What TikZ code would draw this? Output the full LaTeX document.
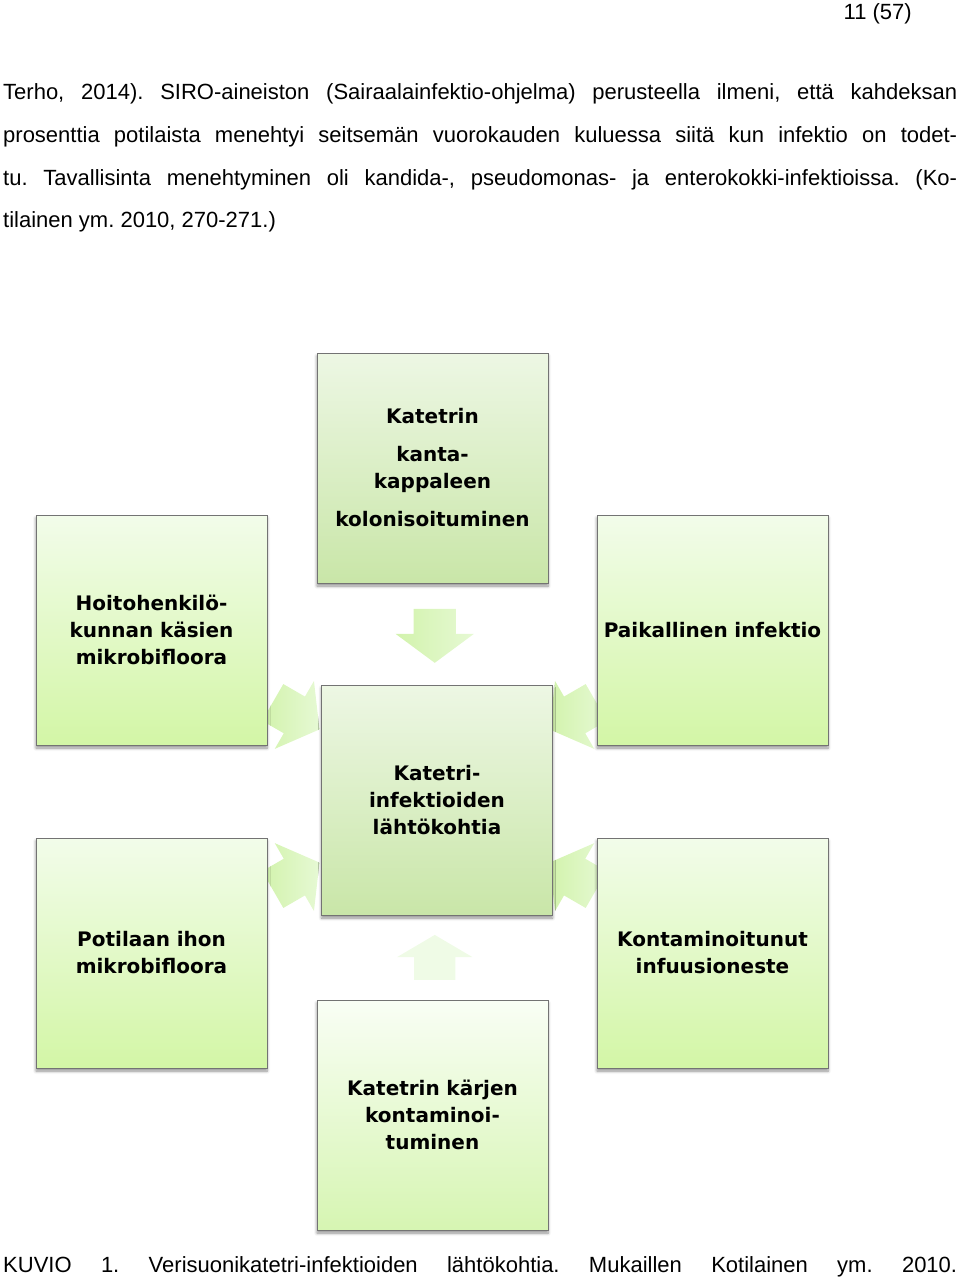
\documentclass[tikz,border=0pt]{standalone}
\usepackage{fontspec}
\setmainfont{Liberation Sans}
\newfontfamily\boxfont{DejaVu Sans}
\usetikzlibrary{shapes.arrows,shadows.blur,calc}
\frenchspacing

\definecolor{sidetop}{HTML}{F2FCEA}
\definecolor{sidebot}{HTML}{D3F6A6}
\definecolor{midtop}{HTML}{EDF7E4}
\definecolor{midbot}{HTML}{C9E6A8}
\definecolor{lowtop}{HTML}{F9FEF5}
\definecolor{lowbot}{HTML}{D6F5B2}
\definecolor{arrowdark}{HTML}{D2F3AC}
\definecolor{arrowlight}{HTML}{E6F9D4}
\definecolor{arrowpale}{HTML}{EFFBE6}

\tikzstyle{block} = [rectangle, draw=black!55, line width=0.8pt, minimum width=231pt, minimum height=230pt, inner sep=0pt, text width=225pt, align=center, font={\boxfont\bfseries\fontsize{20}{27}\selectfont}, top color=sidetop, bottom color=sidebot, blur shadow={shadow xshift=0pt, shadow yshift=-3pt, shadow blur radius=3pt, shadow blur steps=6, shadow opacity=45}]
\tikzstyle{blockarrow} = [single arrow, draw=none, inner sep=0pt, text height=21pt, text depth=21pt, minimum height=54pt, single arrow head extend=18pt, single arrow tip angle=107, left color=arrowdark, right color=arrowlight]
\tikzstyle{bodytext} = [anchor=base west, inner sep=0pt, font={\fontsize{22}{26}\selectfont}]

\begin{document}
\begin{tikzpicture}[x=1pt, y=-1pt]
    \useasboundingbox (0,0) rectangle (960,1281);

    % page text
    \node (pagenum) [anchor=base east, inner sep=0pt, font={\fontsize{22}{26}\selectfont}] at (912,20) {11 (57)};
    \node (line1) [bodytext] at (3,100) {\makebox[954pt][s]{Terho, 2014). SIRO-aineiston (Sairaalainfektio-ohjelma) perusteella ilmeni, että kahdeksan}};
    \node (line2) [bodytext] at (3,142.7) {\makebox[954pt][s]{prosenttia potilaista menehtyi seitsemän vuorokauden kuluessa siitä kun infektio on todet-}};
    \node (line3) [bodytext] at (3,185.4) {\makebox[954pt][s]{tu. Tavallisinta menehtyminen oli kandida-, pseudomonas- ja enterokokki-infektioissa. (Ko-}};
    \node (line4) [bodytext] at (3,228) {tilainen ym. 2010, 270-271.)};

    % block arrows first, boxes are drawn over them
    \coordinate (kolonS) at (432.5,583);
    \coordinate (lahtoN) at (437,685);
    \coordinate (lahtoS) at (437,915);
    \coordinate (karkiN) at (432.5,1000);
    \node (arrtop) [blockarrow, rotate=-90] at ($(kolonS)!0.5!(lahtoN)+(0,-6)$) {};
    \node (arrbot) [blockarrow, rotate=90, text height=20.5pt, text depth=20.5pt, minimum height=45pt, single arrow head extend=17pt, single arrow tip angle=119, left color=arrowpale, right color=arrowpale] at ($(lahtoS)!0.5!(karkiN)+(0,6)$) {};
    \node (arrul) [blockarrow, rotate=-30] at (289.3,712) {};
    \node (arrll) [blockarrow, rotate=30] at (289.3,880) {};
    \node (arrur) [blockarrow, rotate=210] at (579.7,712) {};
    \node (arrlr) [blockarrow, rotate=150] at (579.7,880) {};

    % boxes
    \node (kolon) [block, top color=midtop, bottom color=midbot] at (432.5,468) {Katetrin\\[11pt] kanta-\\kappaleen\\[11pt] kolonisoituminen};
    \node (hoito) [block] at (151.5,630) {Hoitohenkilö-\\kunnan käsien\\mikrobifloora};
    \node (paik) [block] at (712.5,630) {Paikallinen infektio};
    \node (lahto) [block, top color=midtop, bottom color=midbot] at (437,800) {Katetri-\\infektioiden\\lähtökohtia};
    \node (potil) [block] at (151.5,953) {Potilaan ihon\\mikrobifloora};
    \node (kontam) [block] at (712.5,953) {Kontaminoitunut\\infuusioneste};
    \node (karki) [block, top color=lowtop, bottom color=lowbot] at (432.5,1115) {Katetrin kärjen\\kontaminoi-\\tuminen};

    % caption
    \node (caption) [bodytext] at (3,1272) {\makebox[954pt][s]{KUVIO 1. Verisuonikatetri-infektioiden lähtökohtia. Mukaillen Kotilainen ym. 2010.}};
\end{tikzpicture}
\end{document}
